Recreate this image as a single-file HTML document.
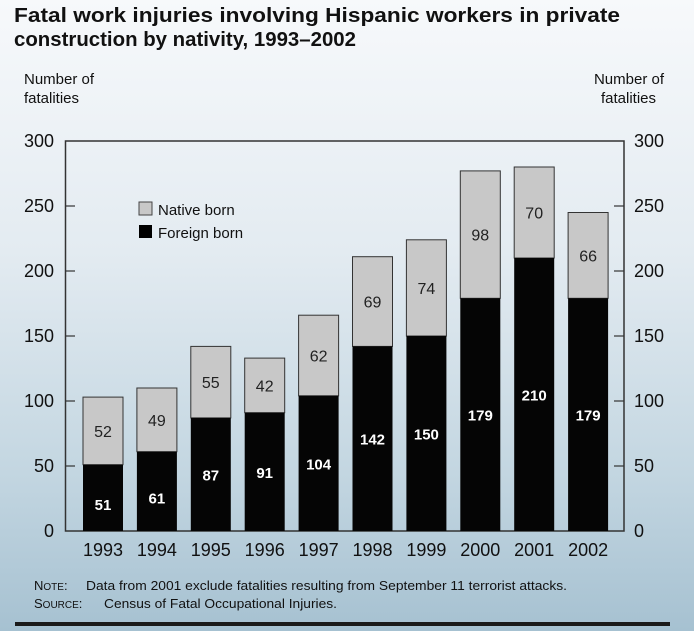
<!DOCTYPE html>
<html><head><meta charset="utf-8"><style>
body{margin:0;width:694px;height:631px;overflow:hidden;background:linear-gradient(#f7f9fb 0%,#e3ebf1 40%,#c3d6e1 75%,#a6c1d1 100%);font-family:"Liberation Sans",sans-serif;}
</style></head><body>
<svg width="694" height="631" xmlns="http://www.w3.org/2000/svg" style="position:absolute;left:0;top:0">
<text x="14" y="22" font-size="20" font-weight="bold" fill="#111" textLength="606" lengthAdjust="spacingAndGlyphs">Fatal work injuries involving Hispanic workers in private</text>
<text x="14" y="46" font-size="20" font-weight="bold" fill="#111" textLength="342" lengthAdjust="spacingAndGlyphs">construction by nativity, 1993–2002</text>
<text x="24" y="84" font-size="15" fill="#111">Number of</text>
<text x="24" y="103" font-size="15" fill="#111">fatalities</text>
<text x="664" y="84" font-size="15" fill="#111" text-anchor="end">Number of</text>
<text x="656" y="103" font-size="15" fill="#111" text-anchor="end">fatalities</text>
<g font-size="18" fill="#111">
<text x="54" y="147" text-anchor="end">300</text><text x="54" y="212" text-anchor="end">250</text>
<text x="54" y="277" text-anchor="end">200</text><text x="54" y="342" text-anchor="end">150</text>
<text x="54" y="407" text-anchor="end">100</text><text x="54" y="472" text-anchor="end">50</text>
<text x="54" y="537" text-anchor="end">0</text>
<text x="634" y="147">300</text><text x="634" y="212">250</text><text x="634" y="277">200</text>
<text x="634" y="342">150</text><text x="634" y="407">100</text><text x="634" y="472">50</text><text x="634" y="537">0</text>
</g>
<g stroke="#333" stroke-width="1.2">
<line x1="65" y1="206" x2="75" y2="206"/><line x1="65" y1="271" x2="75" y2="271"/><line x1="65" y1="336" x2="75" y2="336"/><line x1="65" y1="401" x2="75" y2="401"/><line x1="65" y1="466" x2="75" y2="466"/>
<line x1="614" y1="206" x2="624" y2="206"/><line x1="614" y1="271" x2="624" y2="271"/><line x1="614" y1="336" x2="624" y2="336"/><line x1="614" y1="401" x2="624" y2="401"/><line x1="614" y1="466" x2="624" y2="466"/>
</g>
<rect x="65.5" y="141" width="558.5" height="390" fill="none" stroke="#333" stroke-width="1.5"/>
<g id="bars"></g>
<rect x="139" y="202" width="13" height="13" fill="#c8c8c8" stroke="#444"/>
<text x="158" y="215" font-size="15" fill="#111">Native born</text>
<rect x="139" y="225" width="13" height="13" fill="#000"/>
<text x="158" y="238" font-size="15" fill="#111">Foreign born</text>
<text x="34" y="590" font-size="13" fill="#111">N<tspan font-size="10">OTE</tspan>:</text>
<text x="86" y="590" font-size="13" fill="#111" textLength="481" lengthAdjust="spacingAndGlyphs">Data from 2001 exclude fatalities resulting from September 11 terrorist attacks.</text>
<text x="34" y="608" font-size="13" fill="#111">S<tspan font-size="10">OURCE</tspan>:</text>
<text x="104" y="608" font-size="13" fill="#111" textLength="233" lengthAdjust="spacingAndGlyphs">Census of Fatal Occupational Injuries.</text>
<rect x="15" y="622" width="655" height="4" fill="#1a1a1a"/>
</svg>
<script>
var f=[51,61,87,91,104,142,150,179,210,179],n=[52,49,55,42,62,69,74,98,70,66],s="";
for(var i=0;i<10;i++){var x=83+i*53.9,w=40,yf=531-1.3*f[i],yt=yf-1.3*n[i];
s+='<rect x="'+x+'" y="'+yt+'" width="'+w+'" height="'+(yf-yt)+'" fill="#c8c8c8" stroke="#333" stroke-width="1"/>';
s+='<rect x="'+x+'" y="'+yf+'" width="'+w+'" height="'+(531-yf)+'" fill="#050505"/>';
s+='<text x="'+(x+w/2)+'" y="'+((yt+yf)/2+6)+'" font-size="16" fill="#222" text-anchor="middle">'+n[i]+'</text>';
var fy=f[i]<70?(yf+531)/2+12:(yf+531)/2+6;
s+='<text x="'+(x+w/2)+'" y="'+fy+'" font-size="15" font-weight="bold" fill="#fff" text-anchor="middle">'+f[i]+'</text>';
s+='<text x="'+(x+w/2)+'" y="556" font-size="18" fill="#111" text-anchor="middle">'+(1993+i)+'</text>';}
document.getElementById("bars").innerHTML=s;
</script>
</body></html>
